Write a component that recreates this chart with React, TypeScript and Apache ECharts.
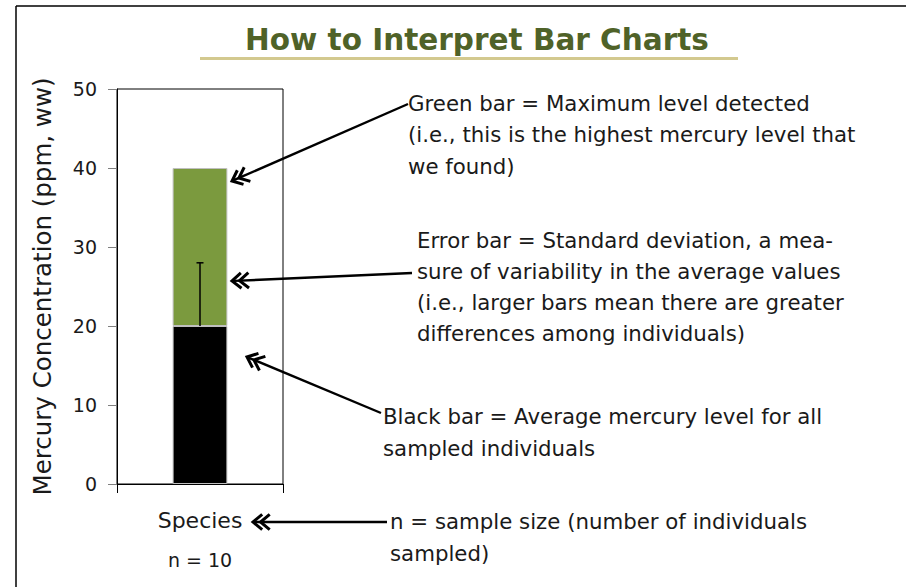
import React, { useEffect, useRef } from "react";
import * as echarts from "echarts";

const categories = ["Species"];
const averageLevel = [20];
const maximumLevel = [40];
const stdDeviation = [8];
const sampleSizes = [10];
const yTickMin = 0;
const yTickMax = 50;
const yTickStep = 10;

const titleText = "How to Interpret Bar Charts";
const yAxisTitle = "Mercury Concentration (ppm, ww)";

const noteGreen = [
  "Green bar = Maximum level detected",
  "(i.e., this is the highest mercury level that",
  "we found)",
];
const noteError = [
  "Error bar = Standard deviation, a mea-",
  "sure of variability in the average values",
  "(i.e., larger bars mean there are greater",
  "differences among individuals)",
];
const noteBlack = ["Black bar = Average mercury level for all", "sampled individuals"];
const noteN = ["n = sample size (number of individuals", "sampled)"];

const FONT = "'DejaVu Sans', 'Open Sans', sans-serif";
const TXT = "#1a1a1a";

function textLines(lines: string[], x: number, y0: number, lh: number, size: number) {
  return lines.map((t, i) => ({
    type: "text",
    x,
    y: y0 + i * lh,
    style: {
      text: t,
      fontSize: size,
      fontFamily: FONT,
      fill: TXT,
      textVerticalAlign: "middle",
      textAlign: "left",
    },
  }));
}

function arrow(sx: number, sy: number, tx: number, ty: number) {
  const dx = sx - tx;
  const dy = sy - ty;
  const len = Math.sqrt(dx * dx + dy * dy);
  const ux = dx / len;
  const uy = dy / len;
  const a = (40 * Math.PI) / 180;
  const L = 12;
  const rot = (ang: number) => [ux * Math.cos(ang) - uy * Math.sin(ang), ux * Math.sin(ang) + uy * Math.cos(ang)];
  const r1 = rot(a);
  const r2 = rot(-a);
  const chev = (off: number) => {
    const px = tx + ux * off;
    const py = ty + uy * off;
    return {
      type: "polyline",
      shape: {
        points: [
          [px + r1[0] * L, py + r1[1] * L],
          [px, py],
          [px + r2[0] * L, py + r2[1] * L],
        ],
      },
      style: { stroke: "#000", lineWidth: 3, fill: "none", lineJoin: "miter" },
    };
  };
  return [
    {
      type: "line",
      shape: { x1: sx, y1: sy, x2: tx + ux * 2, y2: ty + uy * 2 },
      style: { stroke: "#000", lineWidth: 2.4 },
    },
    chev(0),
    chev(7.5),
  ];
}

export default function App() {
  const ref = useRef<HTMLDivElement>(null);
  useEffect(() => {
    if (!ref.current) return;
    const chart = echarts.init(ref.current, undefined, { renderer: "svg" });
    const greenPart = maximumLevel.map((m, i) => m - averageLevel[i]);
    const errData = categories.map((_, i) => [i, averageLevel[i], averageLevel[i] + stdDeviation[i]]);
    chart.setOption({
      animation: false,
      backgroundColor: "#fff",
      textStyle: { fontFamily: FONT },
      grid: {
        left: 117,
        top: 89,
        right: 623,
        bottom: 103,
        show: true,
        borderColor: "#000",
        borderWidth: 1,
        backgroundColor: "transparent",
      },
      xAxis: {
        type: "category",
        data: categories,
        boundaryGap: true,
        axisLine: { show: true, lineStyle: { color: "#000", width: 1 } },
        axisTick: { show: true, length: 9, alignWithLabel: false, interval: 0, lineStyle: { color: "#000" } },
        axisLabel: { fontSize: 22, color: TXT, margin: 25, fontFamily: FONT },
        name: "n = " + sampleSizes[0],
        nameLocation: "middle",
        nameGap: 66,
        nameTextStyle: { fontSize: 19, color: TXT, fontFamily: FONT },
      },
      yAxis: {
        type: "value",
        min: yTickMin,
        max: yTickMax,
        interval: yTickStep,
        splitLine: { show: false },
        axisLine: { show: true, lineStyle: { color: "#000", width: 1 } },
        axisTick: { show: true, length: 9, lineStyle: { color: "#7f7f7f" } },
        axisLabel: { fontSize: 19, color: TXT, margin: 20, fontFamily: FONT },
        name: yAxisTitle,
        nameLocation: "middle",
        nameRotate: 90,
        nameGap: 62,
        nameTextStyle: { fontSize: 24.5, color: TXT, fontFamily: FONT },
      },
      series: [
        {
          type: "bar",
          stack: "hg",
          data: averageLevel,
          barWidth: "33%",
          itemStyle: { color: "#000", borderColor: "#bfbfbf", borderWidth: 1 },
          z: 2,
        },
        {
          type: "bar",
          stack: "hg",
          data: greenPart,
          barWidth: "33%",
          itemStyle: { color: "#7b9a3e", borderColor: "#bfbfbf", borderWidth: 1 },
          z: 2,
        },
        {
          type: "custom",
          data: errData,
          z: 5,
          renderItem: (params: any, api: any) => {
            const x = api.value(0);
            const p0 = api.coord([x, api.value(1)]);
            const p1 = api.coord([x, api.value(2)]);
            return {
              type: "group",
              children: [
                {
                  type: "line",
                  shape: { x1: p0[0], y1: p0[1], x2: p1[0], y2: p1[1] },
                  style: { stroke: "#000", lineWidth: 1.5 },
                },
                {
                  type: "line",
                  shape: { x1: p1[0] - 3.5, y1: p1[1], x2: p1[0] + 3.5, y2: p1[1] },
                  style: { stroke: "#000", lineWidth: 1.5 },
                },
              ],
            };
          },
        },
      ],
      graphic: [
        { type: "line", shape: { x1: 16, y1: 6, x2: 906, y2: 6 }, style: { stroke: "#000", lineWidth: 1.5 } },
        { type: "line", shape: { x1: 16, y1: 6, x2: 16, y2: 587 }, style: { stroke: "#000", lineWidth: 1.5 } },
        {
          type: "text",
          x: 477,
          y: 40,
          style: {
            text: titleText,
            fontSize: 29.5,
            fontWeight: "bold",
            fontFamily: FONT,
            fill: "#4f6228",
            textAlign: "center",
            textVerticalAlign: "middle",
          },
        },
        { type: "rect", shape: { x: 200, y: 57, width: 538, height: 3 }, style: { fill: "#d3c98f" } },
        ...textLines(noteGreen, 408, 103, 31.5, 21.3),
        ...textLines(noteError, 417, 240, 31, 21.3),
        ...textLines(noteBlack, 383, 416, 32, 21.3),
        ...textLines(noteN, 390, 521, 32, 21.3),
        ...arrow(408, 104, 232, 181),
        ...arrow(412, 273, 232, 281),
        ...arrow(381, 413, 247, 357),
        ...arrow(387, 522, 253, 522),
      ],
    });
    return () => chart.dispose();
  }, []);
  return <div ref={ref} style={{ position: "fixed", left: 0, top: 0, width: 906, height: 587 }} />;
}
